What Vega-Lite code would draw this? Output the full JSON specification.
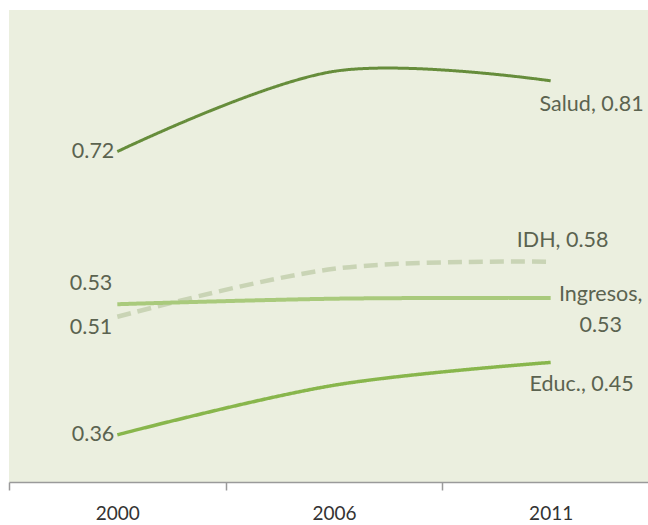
{
  "$schema": "https://vega.github.io/schema/vega-lite/v6.json",
  "autosize": "none",
  "width": 639,
  "height": 472,
  "padding": {"left": 9, "top": 10, "right": 0, "bottom": 43},
  "background": "#ffffff",
  "config": {
    "view": {"stroke": null, "fill": "#ebefdf"},
    "text": {"font": "Lato", "fontSize": 21.5, "color": "#5b6350"}
  },
  "datasets": {
    "series": [
      {"series": "Salud", "year": "2000", "value": 0.72},
      {"series": "Salud", "year": "2006", "value": 0.822},
      {"series": "Salud", "year": "2011", "value": 0.81},
      {"series": "IDH", "year": "2000", "value": 0.51},
      {"series": "IDH", "year": "2006", "value": 0.571},
      {"series": "IDH", "year": "2011", "value": 0.58},
      {"series": "Ingresos", "year": "2000", "value": 0.526},
      {"series": "Ingresos", "year": "2006", "value": 0.533},
      {"series": "Ingresos", "year": "2011", "value": 0.534},
      {"series": "Educ.", "year": "2000", "value": 0.36},
      {"series": "Educ.", "year": "2006", "value": 0.423},
      {"series": "Educ.", "year": "2011", "value": 0.452}
    ],
    "labels": [
      {"series": "Salud", "year": "2000", "value": 0.72, "label": "0.72"},
      {"series": "Educ.", "year": "2000", "value": 0.36, "label": "0.36"},
      {"series": "Ingresos", "year": "2000", "value": 0.526, "label": "0.53"},
      {"series": "IDH", "year": "2000", "value": 0.51, "label": "0.51"},
      {"series": "Salud", "year": "2011", "value": 0.81, "label": "Salud, 0.81"},
      {"series": "IDH", "year": "2011", "value": 0.58, "label": "IDH, 0.58"},
      {"series": "Ingresos", "year": "2011", "value": 0.534, "label": "Ingresos,\n0.53"},
      {"series": "Educ.", "year": "2011", "value": 0.452, "label": "Educ., 0.45"}
    ]
  },
  "encoding": {
    "x": {
      "field": "year", "type": "ordinal",
      "scale": {"type": "band", "range": [0, 650], "paddingInner": 0, "paddingOuter": 0},
      "axis": {
        "title": null, "labelAngle": 0, "tickBand": "extent",
        "domainColor": "#9a9a9a", "domainWidth": 1.5, "tickColor": "#9a9a9a", "tickWidth": 1.5, "tickSize": 8,
        "labelFont": "Lato", "labelFontSize": 19, "labelColor": "#333333", "labelPadding": 14,
        "labelBaseline": "top"
      }
    },
    "y": {
      "field": "value", "type": "quantitative",
      "scale": {"domain": [0.3, 0.9], "nice": false, "zero": false},
      "axis": null
    }
  },
  "layer": [
    {
      "data": {"name": "series"},
      "mark": {"type": "line", "interpolate": "catmull-rom", "strokeCap": "butt"},
      "encoding": {
        "detail": {"field": "series"},
        "color": {"field": "series", "type": "nominal", "legend": null,
          "scale": {"domain": ["IDH", "Ingresos", "Educ.", "Salud"], "range": ["#c9d4b5", "#a9ca7c", "#88b64c", "#668d3b"]}},
        "strokeDash": {"field": "series", "type": "nominal", "legend": null,
          "scale": {"domain": ["IDH", "Ingresos", "Educ.", "Salud"], "range": [[14, 7], [1, 0], [1, 0], [1, 0]]}},
        "strokeWidth": {"field": "series", "type": "nominal", "legend": null,
          "scale": {"domain": ["IDH", "Ingresos", "Educ.", "Salud"], "range": [4.5, 3, 4, 4]}}
      }
    },
    {
      "data": {"name": "labels"},
      "transform": [{"filter": "datum.year == '2000' && (datum.series == 'Salud' || datum.series == 'Educ.')"}],
      "mark": {"type": "text", "align": "right", "baseline": "middle", "dx": -3},
      "encoding": {"text": {"field": "label"}}
    },
    {
      "data": {"name": "labels"},
      "transform": [{"filter": "datum.year == '2000' && datum.series == 'Ingresos'"}],
      "mark": {"type": "text", "align": "right", "baseline": "middle", "dx": -5, "dy": -20},
      "encoding": {"text": {"field": "label"}}
    },
    {
      "data": {"name": "labels"},
      "transform": [{"filter": "datum.year == '2000' && datum.series == 'IDH'"}],
      "mark": {"type": "text", "align": "right", "baseline": "middle", "dx": -5, "dy": 11},
      "encoding": {"text": {"field": "label"}}
    },
    {
      "data": {"name": "labels"},
      "transform": [{"filter": "datum.year == '2011' && datum.series == 'Salud'"}],
      "mark": {"type": "text", "align": "center", "baseline": "middle", "dx": 41, "dy": 24},
      "encoding": {"text": {"field": "label"}}
    },
    {
      "data": {"name": "labels"},
      "transform": [{"filter": "datum.year == '2011' && datum.series == 'IDH'"}],
      "mark": {"type": "text", "align": "center", "baseline": "middle", "dx": 12, "dy": -21},
      "encoding": {"text": {"field": "label"}}
    },
    {
      "data": {"name": "labels"},
      "transform": [{"filter": "datum.year == '2011' && datum.series == 'Ingresos'"}],
      "mark": {"type": "text", "align": "center", "baseline": "middle", "dx": 50, "dy": -3, "lineBreak": "\n", "lineHeight": 31},
      "encoding": {"text": {"field": "label"}}
    },
    {
      "data": {"name": "labels"},
      "transform": [{"filter": "datum.year == '2011' && datum.series == 'Educ.'"}],
      "mark": {"type": "text", "align": "center", "baseline": "middle", "dx": 31, "dy": 23},
      "encoding": {"text": {"field": "label"}}
    }
  ]
}
